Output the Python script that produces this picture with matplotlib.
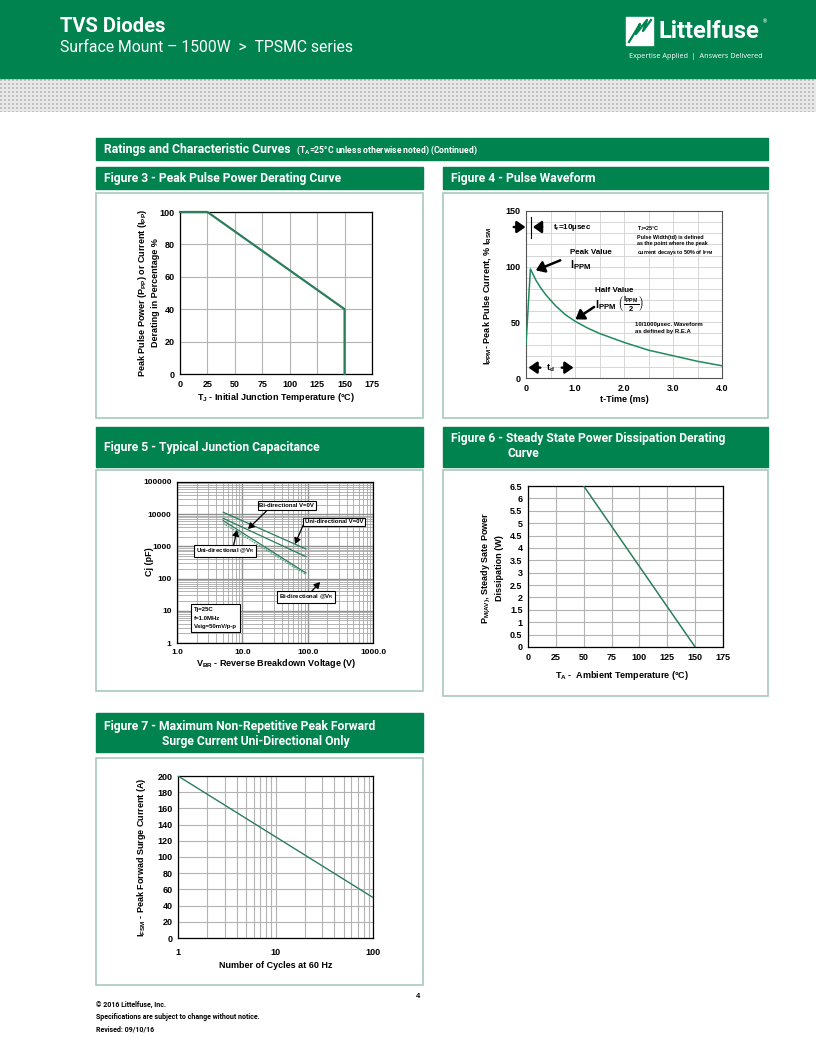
import matplotlib
matplotlib.use('Agg')
import matplotlib.pyplot as plt
from matplotlib.patches import Rectangle
from matplotlib.ticker import LogLocator, NullFormatter, FixedLocator
import numpy as np

W, H = 816, 1056
GREEN = '#00834f'
LINE = '#2b7d5c'
EDGE = '#a8c8bd'
GRID = '#b3b3b3'

plt.rcParams['font.family'] = ['Liberation Sans', 'DejaVu Sans']
plt.rcParams['font.weight'] = 'bold'
plt.rcParams['mathtext.fontset'] = 'custom'
plt.rcParams['mathtext.rm'] = 'Liberation Sans:bold'
plt.rcParams['mathtext.it'] = 'Liberation Sans:bold'
plt.rcParams['mathtext.bf'] = 'Liberation Sans:bold'

# Figure 3 - derating
fig3_temp = [0, 25, 150, 150]
fig3_pct = [100, 100, 40, 0]

# Figure 4 - pulse waveform
fig4_t = [0, 0.09, 0.2, 0.3, 0.4, 0.5, 0.6, 0.8, 1.0, 1.25, 1.5, 1.75, 2.0, 2.5, 3.0, 3.5, 4.0]
fig4_i = [30, 98, 88, 81, 75, 70, 65, 57, 51, 45, 40, 36, 32, 25, 20, 15, 11]

# Figure 5 - junction capacitance (end points of the lines)
fig5_v = [5.1, 94]
fig5_uni_0v = [11500, 830]
fig5_bi_0v = [7450, 480]
fig5_uni_vr = [6300, 150]
fig5_bi_vr = [5200, 135]

# Figure 6 - steady state derating
fig6_temp = [50, 150]
fig6_p = [6.5, 0]

# Figure 7 - surge current
fig7_cycles = [1, 100]
fig7_amps = [200, 50]


def box(x, y, w, h):
    return [x / W, 1 - (y + h) / H, w / W, h / H]


def style(ax, size=6.5):
    for s in ax.spines.values():
        s.set_color('black')
        s.set_linewidth(0.9)
    ax.tick_params(which='both', length=0, labelsize=size, pad=4)
    ax.set_axisbelow(True)


fig = plt.figure(figsize=(W / 100, H / 100), dpi=100)
bg = fig.add_axes([0, 0, 1, 1])
bg.axis('off')

# page header
bg.add_patch(Rectangle((0, 0), W, 78, color=GREEN))
yy, xx = np.mgrid[0:33, 0:W]
dots = (xx % 4 < 2) & (yy % 4 < 2)
band = np.where(dots, 0.76, 0.91)
bg.imshow(np.dstack([band] * 3), extent=(0, W, 112, 79), interpolation='nearest', aspect='auto')
bg.text(60, 27, 'TVS Diodes', color='white', fontsize=14.5, family='Roboto',
        weight='bold', va='center')
bg.text(60, 47, 'Surface Mount – 1500W  >  TPSMC series', color='white',
        fontsize=11.3, family='Roboto', weight='normal', va='center')
# logo
bg.add_patch(Rectangle((626, 17), 27, 28, color='white'))
bg.plot([629, 640, 636, 647, 643, 651], [42, 24, 34, 20, 31, 20], color=GREEN, lw=1.6)
bg.text(658, 32, 'Littelfuse', color='white', fontsize=17, family='Roboto',
        weight='bold', va='center')
bg.text(763, 22, '®', color='white', fontsize=4, va='center')
bg.text(696, 57, 'Expertise Applied  |  Answers Delivered', color='white',
        fontsize=5.2, family='Open Sans', weight='normal', va='center', ha='center')

# section bands
bg.add_patch(Rectangle((96, 138), 672, 22, color=GREEN))
bg.text(104, 149.5, 'Ratings and Characteristic Curves', color='white', fontsize=8.8,
        family='Roboto', weight='bold', va='center')
bg.text(296, 150.5, r'(T$_{\rm A}$=25°C unless otherwise noted) (Continued)', color='white',
        fontsize=6.2, family='Roboto', weight='bold', va='center')

headers = [
    ((96, 167, 327, 22), [(104, 178.5, 'Figure 3 - Peak Pulse Power Derating Curve')]),
    ((443, 167, 325, 22), [(451, 178.5, 'Figure 4 - Pulse Waveform')]),
    ((96, 427, 327, 40), [(104, 447.5, 'Figure 5 - Typical Junction Capacitance')]),
    ((443, 427, 325, 40), [(451, 438.5, 'Figure 6 - Steady State Power Dissipation Derating'),
                           (507, 453.5, 'Curve')]),
    ((96, 713, 327, 39), [(104, 726.5, 'Figure 7 - Maximum Non-Repetitive Peak Forward'),
                          (162, 741.5, 'Surge Current Uni-Directional Only')]),
]
for (x, y, w, h), lines in headers:
    bg.add_patch(Rectangle((x, y), w, h, color=GREEN))
    for tx, ty, txt in lines:
        bg.text(tx, ty, txt, color='white', fontsize=8.7, family='Roboto',
                weight='bold', va='center')

panels = [(96, 193, 327, 225), (443, 193, 325, 225), (96, 470, 327, 221),
          (443, 470, 325, 226), (96, 758, 327, 227)]
for x, y, w, h in panels:
    bg.add_patch(Rectangle((x, y), w, h, fill=False, ec=EDGE, lw=1.2))

# footer
bg.text(418, 996, '4', fontsize=5.5, va='center', ha='center')
bg.text(96, 1005, '© 2016 Littelfuse, Inc.', fontsize=5, va='center', family='Roboto')
bg.text(96, 1017, 'Specifications are subject to change without notice.', fontsize=5,
        va='center', family='Roboto')
bg.text(96, 1029, 'Revised: 09/10/16', fontsize=5, va='center', family='Roboto')

# axis titles placed on the page
lab = dict(fontsize=6.5, ha='center', va='center')
bg.text(148, 293, 'Peak Pulse Power (P$_{\\rm PP}$) or Current (I$_{\\rm PP}$)\nDerating in Percentage %',
        rotation=90, linespacing=1.3, **lab)
bg.text(276, 397, r'T$_{\rm J}$ - Initial Junction Temperature (°C)', **lab)
bg.text(487, 296, r'I$_{\rm PPM}$- Peak Pulse Current, % I$_{\rm RSM}$', rotation=90, **lab)
bg.text(624, 400, 't-Time (ms)', **lab)
bg.text(150, 562, 'Cj (pF)', rotation=90, **lab)
bg.text(276, 664, r'V$_{\rm BR}$ - Reverse Breakdown Voltage (V)', **lab)
bg.text(492, 568, 'P$_{\\rm M(AV)}$, Steady Sate Power\nDissipation (W)', rotation=90,
        linespacing=1.3, **lab)
bg.text(622, 675, r'T$_{\rm A}$ -  Ambient Temperature (°C)', **lab)
bg.text(141, 857, r'I$_{\rm FSM}$ - Peak Forwad Surge Current (A)', rotation=90, **lab)
bg.text(276, 965, 'Number of Cycles at 60 Hz', **lab)
bg.set_xlim(0, W)
bg.set_ylim(H, 0)

# ---- Figure 3
ax3 = fig.add_axes(box(180, 212, 192, 162))
ax3.plot(fig3_temp, fig3_pct, color=LINE, lw=1.6, clip_on=False, zorder=3)
ax3.set_xlim(0, 175)
ax3.set_ylim(0, 100)
ax3.set_xticks(range(0, 176, 25))
ax3.set_yticks(range(0, 101, 20))
ax3.grid(color=GRID, lw=0.8)
style(ax3)

# ---- Figure 4
ax4 = fig.add_axes(box(526, 211, 196, 167))
ax4.plot(fig4_t, fig4_i, color='#1f8a5e', lw=1.1, zorder=3)
ax4.set_xlim(0, 4)
ax4.set_ylim(0, 150)
ax4.set_xticks([0, 1, 2, 3, 4])
ax4.set_xticklabels(['0', '1.0', '2.0', '3.0', '4.0'])
ax4.set_xticks(np.arange(0, 4.01, 0.5), minor=True)
ax4.set_yticks([0, 50, 100, 150])
ax4.set_yticks(range(0, 151, 10), minor=True)
ax4.grid(which='both', color='#d6d6d6', lw=0.7)
style(ax4)
for s in ax4.spines.values():
    s.set_color('#555555')
    s.set_linewidth(0.8)
arrow = dict(arrowstyle='-|>,head_width=0.35,head_length=0.5', color='black', lw=1.8,
             shrinkA=0, shrinkB=0)
ax4.annotate('', xy=(-0.01, 135.6), xytext=(-0.25, 135.6), arrowprops=arrow,
             annotation_clip=False)
ax4.annotate('', xy=(0.14, 135.6), xytext=(0.33, 135.6), arrowprops=arrow)
ax4.plot([0.11, 0.11], [126, 145], color='black', lw=0.8)
ax4.text(0.56, 135.6, r't$_{\rm r}$=10µsec', fontsize=5.8, va='center')
ax4.text(2.27, 138, 'T$_{\\rm J}$=25°C\nPulse Width(td) is defined\nas the point where the peak\n'
         'current decays to 50% of I$_{\\rm PPM}$', fontsize=3.9, va='top', linespacing=1.35)
ax4.text(0.89, 113, 'Peak Value', fontsize=5.8, va='center')
ax4.text(0.89, 101, r'I$_{\rm PPM}$', fontsize=7.8, va='center')
ax4.annotate('', xy=(0.2, 96.7), xytext=(0.7, 105.7), arrowprops=arrow)
ax4.text(1.41, 79, 'Half Value', fontsize=5.8, va='center')
ax4.text(1.41, 66.5, r'I$_{\rm PPM}$ $\left(\frac{\rm I_{PPM}}{2}\right)$', fontsize=7.8,
         va='center')
ax4.annotate('', xy=(1.01, 52.7), xytext=(1.39, 63.8), arrowprops=arrow)
ax4.text(2.23, 45, '10/1000µsec. Waveform\nas defined by R.E.A', fontsize=4.3,
         va='center', linespacing=1.4)
ax4.annotate('', xy=(0.05, 9.3), xytext=(0.29, 9.3), arrowprops=arrow)
ax4.annotate('', xy=(0.97, 9.3), xytext=(0.73, 9.3), arrowprops=arrow)
ax4.text(0.5, 8.5, r't$_{\rm d}$', fontsize=6.5, va='center', ha='center')

# ---- Figure 5
ax5 = fig.add_axes(box(177, 482, 196, 161))
ax5.set_xscale('log')
ax5.set_yscale('log')
ax5.plot(fig5_v, fig5_uni_0v, color=LINE, lw=0.9, zorder=3)
ax5.plot(fig5_v, fig5_bi_0v, color=LINE, lw=0.9, zorder=3)
ax5.plot(fig5_v, fig5_uni_vr, color=LINE, lw=0.9, zorder=3)
ax5.plot(fig5_v, fig5_bi_vr, color='#5fa386', lw=1.0, ls=(0, (1.2, 0.8)), zorder=3)
ax5.set_xlim(1, 1000)
ax5.set_ylim(1, 100000)
ax5.xaxis.set_major_locator(FixedLocator([1, 10, 100, 1000]))
ax5.set_xticklabels(['1.0', '10.0', '100.0', '1000.0'])
ax5.yaxis.set_major_locator(FixedLocator([1, 10, 100, 1000, 10000, 100000]))
ax5.set_yticklabels(['1', '10', '100', '1000', '10000', '100000'])
ax5.xaxis.set_minor_locator(LogLocator(base=10, subs=np.arange(2, 10)))
ax5.yaxis.set_minor_locator(LogLocator(base=10, subs=np.arange(2, 10)))
ax5.xaxis.set_minor_formatter(NullFormatter())
ax5.yaxis.set_minor_formatter(NullFormatter())
ax5.grid(which='major', color='#8f8f8f', lw=1.0)
ax5.grid(which='minor', color='#a8a8a8', lw=0.6)
style(ax5, 6)
boxed = dict(boxstyle='square,pad=0.3', fc='white', ec='black', lw=0.8)
small_arrow = dict(arrowstyle='-|>,head_width=0.2,head_length=0.35', color='black', lw=0.9,
                   shrinkA=0, shrinkB=0)
notes5 = [
    ('Bi-directional V=0V', (48, 18600), (12.2, 3470), (26, 15500)),
    ('Uni-directional V=0V', (254, 5730), (64, 1180), (85, 4500)),
    ('Uni-directional @V$_{\\rm R}$', (5.4, 720), (8.3, 3230), (7.2, 900)),
    ('Bi-directional @V$_{\\rm R}$', (94, 27), (155, 78), (105, 33)),
]
for txt, pos, tip, start in notes5:
    ax5.annotate('', xy=tip, xytext=start, arrowprops=small_arrow, zorder=4)
    ax5.text(pos[0], pos[1], txt, fontsize=4.3, ha='center', va='center', bbox=boxed, zorder=5)
ax5.text(1.8, 13, 'Tj=25C\nf=1.0MHz\nVsig=50mV/p-p', fontsize=4.3, ha='left', va='top',
         linespacing=1.9, bbox=dict(boxstyle='square,pad=0.5', fc='white', ec='black', lw=0.8),
         zorder=5)

# ---- Figure 6
ax6 = fig.add_axes(box(528, 486, 195, 161))
ax6.plot(fig6_temp, fig6_p, color=LINE, lw=1.1, zorder=3)
ax6.set_xlim(0, 175)
ax6.set_ylim(0, 6.5)
ax6.set_xticks(range(0, 176, 25))
yt = np.arange(0, 6.51, 0.5)
ax6.set_yticks(yt)
ax6.set_yticklabels([f'{v:g}' for v in yt])
ax6.grid(color=GRID, lw=0.8)
style(ax6)

# ---- Figure 7
ax7 = fig.add_axes(box(178, 776, 195, 162))
ax7.set_xscale('log')
ax7.plot(fig7_cycles, fig7_amps, color=LINE, lw=1.0, zorder=3)
ax7.set_xlim(1, 100)
ax7.set_ylim(0, 200)
ax7.xaxis.set_major_locator(FixedLocator([1, 10, 100]))
ax7.set_xticklabels(['1', '10', '100'])
ax7.xaxis.set_minor_locator(LogLocator(base=10, subs=np.arange(2, 10)))
ax7.xaxis.set_minor_formatter(NullFormatter())
ax7.set_yticks(range(0, 201, 20))
ax7.grid(which='both', color=GRID, lw=0.8)
style(ax7)
ax7.tick_params(axis='x', pad=7)

fig.savefig('out.png', dpi=100)
